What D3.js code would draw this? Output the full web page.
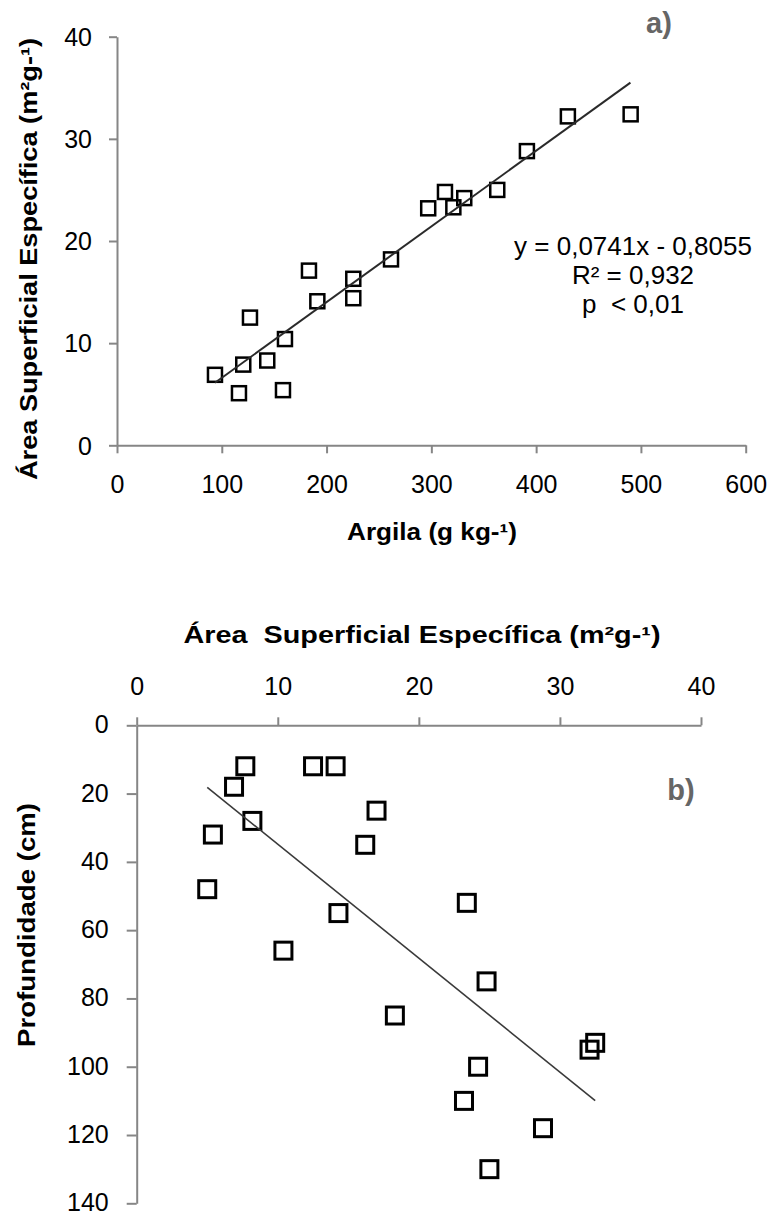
<!DOCTYPE html>
<html>
<head>
<meta charset="utf-8">
<script src="https://cdn.jsdelivr.net/npm/d3@7"></script>
<style>
  html, body { margin: 0; padding: 0; background: #fff; }
  svg { display: block; font-family: "Liberation Sans", Arial, sans-serif; }
</style>
</head>
<body>
<svg id="chart" width="770" height="1214"></svg>
<script>
// ---- Data: chart a) ----
const argila = [93.5, 116.4, 120.5, 126.9, 143.4, 158.4, 160.3, 183.2, 191.2, 225.5, 225.5, 261.5, 297, 313, 321, 331.4, 362.9, 391.2, 430.3, 490.2];
const aseA   = [6.9, 5.1, 7.9, 12.5, 8.3, 5.4, 10.4, 17.1, 14.1, 16.3, 14.4, 18.2, 23.2, 24.8, 23.3, 24.2, 25.0, 28.8, 32.2, 32.4];
const trendA = [0.0741, -0.8055];          // slope, intercept
const trendARange = [93.5, 490];
const xTicksA = [0, 100, 200, 300, 400, 500, 600];
const yTicksA = [0, 10, 20, 30, 40];
const eqLines = ["y = 0,0741x - 0,8055", "R² = 0,932", "p  < 0,01"];

// ---- Data: chart b) ----
const aseB = [7.7, 6.9, 12.5, 14.1, 17.0, 8.2, 5.4, 16.2, 5.0, 14.3, 10.4, 18.3, 23.4, 24.8, 32.5, 32.1, 24.2, 23.2, 28.8, 25.0];
const prof = [12, 18, 12, 12, 25, 28, 32, 35, 48, 55, 66, 85, 52, 75, 93, 95, 100, 110, 118, 130];
const trendB = [3.336, 1.49];              // slope, intercept
const trendBRange = [5.0, 32.5];
const xTicksB = [0, 10, 20, 30, 40];
const yTicksB = [0, 20, 40, 60, 80, 100, 120, 140];

const svg = d3.select("#chart");
const axisColor = "#868686";
const FONT_TICK = 25;

function styleAxis(g) {
  g.select(".domain").attr("stroke", axisColor).attr("stroke-width", 2);
  g.selectAll(".tick line").attr("stroke", axisColor).attr("stroke-width", 2);
  g.selectAll(".tick text").attr("fill", "#000").style("font-size", FONT_TICK + "px");
}

// ================= Chart a) =================
const xA = d3.scaleLinear().domain([0, 600]).range([117, 745.7]);
const yA = d3.scaleLinear().domain([0, 40]).range([445.3, 36.7]);

const gxA = svg.append("g").attr("transform", `translate(0,${yA(0)})`)
  .call(d3.axisBottom(xA).tickValues(xTicksA).tickSize(8).tickSizeOuter(0).tickFormat(d3.format("d")));
styleAxis(gxA);
gxA.selectAll(".tick text").attr("y", 48).attr("dy", null);

const gyA = svg.append("g").attr("transform", `translate(${xA(0)},0)`)
  .call(d3.axisLeft(yA).tickValues(yTicksA).tickSize(8).tickSizeOuter(0).tickFormat(d3.format("d")));
styleAxis(gyA);
gyA.selectAll(".tick text").attr("x", -25).attr("dy", "0.35em");

// points a
svg.append("g").selectAll("rect").data(argila.map((v, i) => [v, aseA[i]])).join("rect")
  .attr("x", d => xA(d[0]) - 7).attr("y", d => yA(d[1]) - 7)
  .attr("width", 14).attr("height", 14)
  .attr("fill", "none").attr("stroke", "#000").attr("stroke-width", 2.5);

// trend a
svg.append("line")
  .attr("x1", xA(trendARange[0])).attr("y1", yA(trendA[0] * trendARange[0] + trendA[1]))
  .attr("x2", xA(trendARange[1])).attr("y2", yA(trendA[0] * trendARange[1] + trendA[1]))
  .attr("stroke", "#2a2a2a").attr("stroke-width", 2);

// equation
svg.append("g").selectAll("text").data(eqLines).join("text")
  .attr("x", 633).attr("y", (d, i) => [255, 284, 313][i])
  .attr("text-anchor", "middle").style("font-size", "26px").style("white-space", "pre").attr("fill", "#000")
  .text(d => d);

// titles a
svg.append("text").attr("x", 432).attr("y", 540).attr("text-anchor", "middle")
  .style("font-size", "23px").style("font-weight", "bold")
  .attr("textLength", 170).attr("lengthAdjust", "spacingAndGlyphs")
  .text("Argila (g kg-¹)");
svg.append("text").attr("transform", "translate(37,259) rotate(-90)").attr("text-anchor", "middle")
  .style("font-size", "23px").style("font-weight", "bold")
  .attr("textLength", 442).attr("lengthAdjust", "spacingAndGlyphs")
  .text("Área Superficial Específica (m²g-¹)");
svg.append("text").attr("x", 659).attr("y", 33).attr("text-anchor", "middle")
  .style("font-size", "29px").style("font-weight", "bold").attr("fill", "#666")
  .text("a)");

// ================= Chart b) =================
const xB = d3.scaleLinear().domain([0, 40]).range([136.7, 701]);
const yB = d3.scaleLinear().domain([0, 140]).range([725.3, 1203.3]);

const gxB = svg.append("g").attr("transform", `translate(0,${yB(0)})`)
  .call(d3.axisTop(xB).tickValues(xTicksB).tickSize(8).tickSizeOuter(0).tickFormat(d3.format("d")));
styleAxis(gxB);
gxB.selectAll(".tick text").attr("y", -30).attr("dy", null);

const gyB = svg.append("g").attr("transform", `translate(${xB(0)},0)`)
  .call(d3.axisLeft(yB).tickValues(yTicksB).tickSize(10).tickSizeOuter(0).tickFormat(d3.format("d")));
styleAxis(gyB);
gyB.selectAll(".tick text").attr("x", -28).attr("dy", "0.3em");

// points b
svg.append("g").selectAll("rect").data(aseB.map((v, i) => [v, prof[i]])).join("rect")
  .attr("x", d => xB(d[0]) - 8.5).attr("y", d => yB(d[1]) - 8.5)
  .attr("width", 17).attr("height", 17)
  .attr("fill", "none").attr("stroke", "#000").attr("stroke-width", 3);

// trend b
svg.append("line")
  .attr("x1", xB(trendBRange[0])).attr("y1", yB(trendB[0] * trendBRange[0] + trendB[1]))
  .attr("x2", xB(trendBRange[1])).attr("y2", yB(trendB[0] * trendBRange[1] + trendB[1]))
  .attr("stroke", "#3a3a3a").attr("stroke-width", 1.6);

// titles b
svg.append("text").attr("x", 422).attr("y", 643).attr("text-anchor", "middle")
  .style("font-size", "23px").style("font-weight", "bold").style("white-space", "pre")
  .attr("textLength", 477).attr("lengthAdjust", "spacingAndGlyphs")
  .text("Área  Superficial Específica (m²g-¹)");
svg.append("text").attr("transform", "translate(35,925) rotate(-90)").attr("text-anchor", "middle")
  .style("font-size", "23px").style("font-weight", "bold")
  .attr("textLength", 244).attr("lengthAdjust", "spacingAndGlyphs")
  .text("Profundidade (cm)");
svg.append("text").attr("x", 681).attr("y", 800).attr("text-anchor", "middle")
  .style("font-size", "29px").style("font-weight", "bold").attr("fill", "#666")
  .text("b)");
</script>
</body>
</html>
